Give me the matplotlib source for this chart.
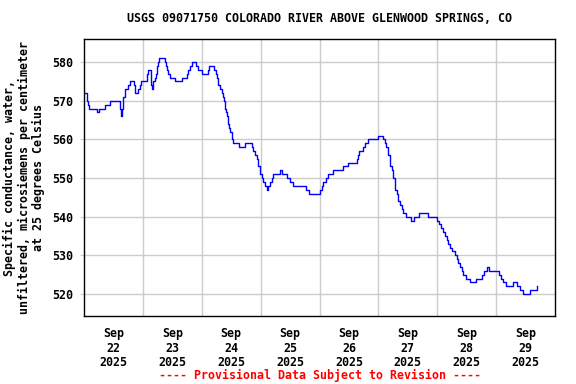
import matplotlib
matplotlib.use("Agg")
import matplotlib.pyplot as plt
from matplotlib.ticker import FixedLocator, NullFormatter

title = "USGS 09071750 COLORADO RIVER ABOVE GLENWOOD SPRINGS, CO"
ylabel = "Specific conductance, water,\nunfiltered, microsiemens per centimeter\nat 25 degrees Celsius"
footer = "---- Provisional Data Subject to Revision ----"
days = ["22", "23", "24", "25", "26", "27", "28", "29"]
month = "Sep"
year = "2025"

# hours since Sep 22 00:00 and specific conductance values (step changes)
hours = [0.0, 1.1, 1.6, 2.2, 5.4, 6.1, 8.6, 10.6, 14.6, 15.0, 15.6, 16.0, 16.7,
         18.1, 18.7, 20.3, 20.9, 22.1, 22.8, 23.2, 25.5, 26.2, 27.3, 27.8, 28.2,
         28.9, 29.3, 29.6, 29.9, 30.3, 30.7, 33.0, 33.4, 34.0, 34.4, 35.0, 37.1,
         40.1, 41.8, 42.5, 43.2, 43.9, 45.6, 46.6, 48.0, 50.4, 51.1, 53.1, 53.8,
         54.3, 54.7, 55.4, 56.1, 56.8, 57.2, 57.5, 57.9, 58.2, 58.5, 58.8, 59.2,
         59.5, 60.2, 60.5, 60.8, 63.3, 65.6, 68.3, 69.0, 69.7, 70.4, 71.0, 71.7,
         72.4, 73.1, 73.8, 74.5, 75.1, 75.8, 76.5, 77.1, 80.1, 80.9, 82.6, 83.9,
         85.3, 90.5, 91.8, 96.2, 96.9, 97.5, 98.6, 99.6, 101.6, 105.7, 107.7,
         111.1, 111.7, 112.2, 113.6, 114.5, 115.6, 119.9, 122.0, 122.5, 123.1,
         124.0, 124.7, 125.4, 126.0, 126.7, 127.4, 128.1, 128.8, 129.5, 130.1,
         131.1, 133.5, 134.5, 136.6, 140.3, 143.7, 144.8, 145.5, 146.2, 147.1,
         147.8, 148.5, 149.1, 150.2, 151.2, 151.9, 152.5, 153.2, 153.9, 154.6,
         155.7, 157.3, 159.6, 162.1, 163.1, 164.1, 165.2, 169.2, 169.9, 170.9,
         172.2, 174.7, 176.6, 177.7, 179.0, 181.7, 184.5]
values = [572, 570, 569, 568, 567, 568, 569, 570, 568, 566, 568, 571, 573,
          574, 575, 574, 572, 573, 574, 575, 577, 578, 574, 573, 575,
          576, 577, 578, 579, 580, 581, 580, 579, 578, 577, 576, 575,
          576, 577, 578, 579, 580, 579, 578, 577, 578, 579, 578, 577,
          576, 574, 573, 572, 571, 570, 568, 567, 566, 565, 564, 563,
          562, 561, 560, 559, 558, 559, 558, 557, 556, 555, 553, 551,
          550, 549, 548, 547, 548, 549, 550, 551, 552, 551, 550, 549,
          548, 547, 546, 547, 548, 549, 550, 551, 552, 553, 554,
          555, 556, 557, 558, 559, 560, 561, 560, 559, 558,
          556, 553, 552, 550, 547, 546, 544, 543, 542, 541,
          540, 539, 540, 541, 540, 539, 538, 537, 536, 535,
          534, 533, 532, 531, 530, 529, 528, 527, 526, 525,
          524, 523, 524, 525, 526, 527, 526, 525, 524, 523,
          522, 523, 522, 521, 520, 521, 522]

yticks = [520, 530, 540, 550, 560, 570, 580]

font = "DejaVu Sans Mono"
fs = 8.4
plt.rcParams["font.family"] = font
plt.rcParams["font.weight"] = "bold"

fig = plt.figure(figsize=(5.76, 3.84), dpi=100)
ax = fig.add_axes([84/576, 1-316/384, (555-84)/576, (316-39)/384])

ax.plot(hours, values, drawstyle="steps-post", color="#0000ff", lw=1.0)

ax.set_xlim(0, 192)
ax.set_ylim(514.3, 586)

ax.set_yticks(yticks)
ax.set_yticklabels([str(v) for v in yticks], fontsize=fs, fontweight="bold")
ax.set_xticks([12 + 24*i for i in range(len(days))])
ax.set_xticklabels([f"{month}\n{d}\n{year}" for d in days], fontsize=fs,
                   fontweight="bold", linespacing=1.15)
ax.xaxis.set_minor_locator(FixedLocator([24*i for i in range(1, len(days))]))
ax.xaxis.set_minor_formatter(NullFormatter())

ax.grid(True, axis="y", which="major", color="#cccccc", lw=1.0)
ax.grid(True, axis="x", which="minor", color="#cccccc", lw=1.0)
ax.grid(False, axis="x", which="major")
ax.tick_params(axis="y", length=3, color="#cccccc", pad=5)
ax.tick_params(axis="x", which="both", length=0, pad=8)
for s in ax.spines.values():
    s.set_color("black")
    s.set_linewidth(1.0)

fig.text(319.5/576, 1-19/384, title, ha="center", va="center", fontsize=fs,
         fontweight="bold", color="black")
fig.text(24/576, 1-177.5/384, ylabel, ha="center", va="center", rotation=90,
         fontsize=fs, fontweight="bold", multialignment="center", linespacing=1.1)
fig.text(320/576, 1-375/384, footer, ha="center", va="center", fontsize=fs,
         fontweight="bold", color="red")

fig.savefig("out.png", dpi=100)
